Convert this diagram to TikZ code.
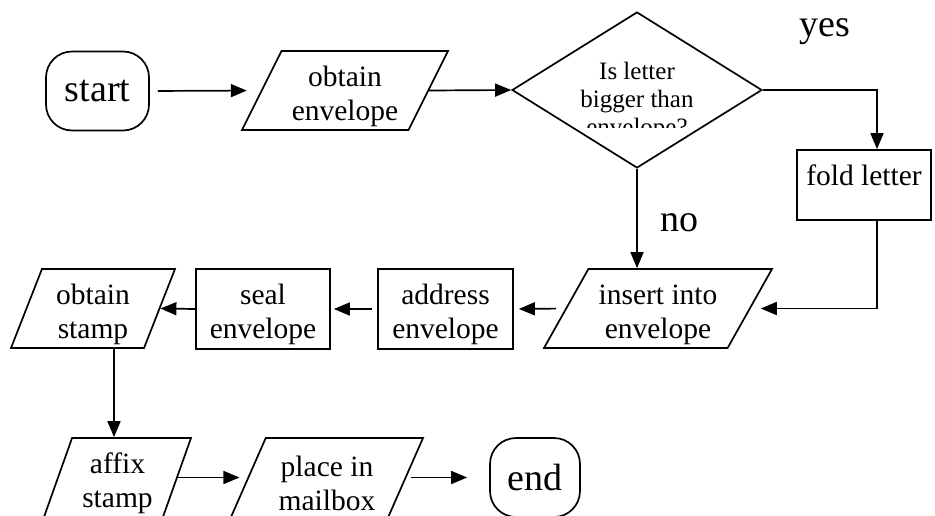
\documentclass[tikz,border=0pt]{standalone}
\usepackage{fontspec}
\setmainfont{Liberation Serif}
\usepackage{tikz}
\usetikzlibrary{arrows.meta,positioning,shapes.geometric}

\newcommand{\topstrut}{\rule{0pt}{32pt}}

\begin{document}
\begin{tikzpicture}[x=1pt, y=-1pt, line width=1.7pt, >={Triangle[length=16pt,width=13pt]}]
        \tikzset{term/.style={rectangle, draw, rounded corners=26pt, font=\fontsize{38}{44}\selectfont, inner sep=0pt}}
        \tikzset{proc/.style={rectangle, draw, align=center, font=\fontsize{29.5}{34}\selectfont, inner sep=2pt}}
        \tikzset{io/.style={trapezium, draw, trapezium stretches body, align=center, font=\fontsize{29.5}{34}\selectfont, inner sep=2pt, minimum height=79}}
        \tikzset{decision/.style={diamond, draw, inner sep=0pt}}
        \tikzset{answer/.style={font=\fontsize{38}{44}\selectfont}}

        \clip (0,0) rectangle (935,515);

        % top row
        \node [term, minimum width=103, minimum height=79] (start) at (97.5,91) {start};
        \node [io, minimum width=206, trapezium left angle=62.6, trapezium right angle=117.4] (env) at (345,90.5) {\topstrut obtain\\envelope};
        \node [decision, minimum width=250, minimum height=156] (decide) at (637,90) {};
        \begin{scope}
            \clip (560,55) rectangle (715,127);
            \node [align=center, anchor=north, inner sep=0pt, font=\fontsize{25}{28}\selectfont] (ask) at (637,61) {Is letter\\bigger than\\envelope?};
        \end{scope}
        \node [proc, minimum width=134, minimum height=70, text depth=20pt] (fold) at (864,185) {fold letter};
        \node [answer] (yes) at (825,32) {yes};
        \node [answer] (no) at (679,222.5) {no};

        % middle row
        \node [io, minimum width=228, trapezium left angle=59.8, trapezium right angle=120.2] (insert) at (658,308.5) {\topstrut insert into\\envelope};
        \node [proc, minimum width=135, minimum height=80] (address) at (445.5,309) {\topstrut address\\envelope};
        \node [proc, minimum width=134, minimum height=80] (seal) at (263,309) {\topstrut seal\\envelope};
        \node [io, minimum width=164, trapezium left angle=67.9, trapezium right angle=112.1] (stamp) at (93,308.5) {\topstrut obtain\\stamp};

        % bottom row
        \node [io, minimum width=147, trapezium left angle=69.8, trapezium right angle=110.2] (affix) at (117.5,477.5) {\topstrut affix\\stamp};
        \node [io, minimum width=192, trapezium left angle=63.7, trapezium right angle=116.3] (place) at (327,477.5) {\topstrut place in\\mailbox};
        \node [term, minimum width=90, minimum height=79] (end) at (535,477.5) {end};

        \draw [->, shorten <=8pt, shorten >=14pt] (start.east) -- (env.left side);
        \draw [->] (env.right side) -- (decide.west);
        \draw [->] (decide.east) -| ([xshift=13pt]fold.north);
        \draw [->] ([xshift=13pt]fold.south) |- ([xshift=10pt]insert.right side);
        \draw [->] (decide.south) -- (decide.south |- insert.north);
        \draw [->, shorten <=9pt, shorten >=5pt] (insert.left side) -- (address.east);
        \draw [->, shorten <=5pt, shorten >=3pt] (address.west) -- (seal.east);
        \draw [->] (seal.west) -- (stamp.right side);
        \draw [->] ([xshift=21pt]stamp.center |- stamp.south) -- ([xshift=21pt]stamp.center |- affix.north);
        \draw [->, shorten >=8pt] (affix.right side) -- (place.left side);
        \draw [->, shorten <=4pt, shorten >=22pt] (place.right side) -- (end.west);
    \end{tikzpicture}
\end{document}
